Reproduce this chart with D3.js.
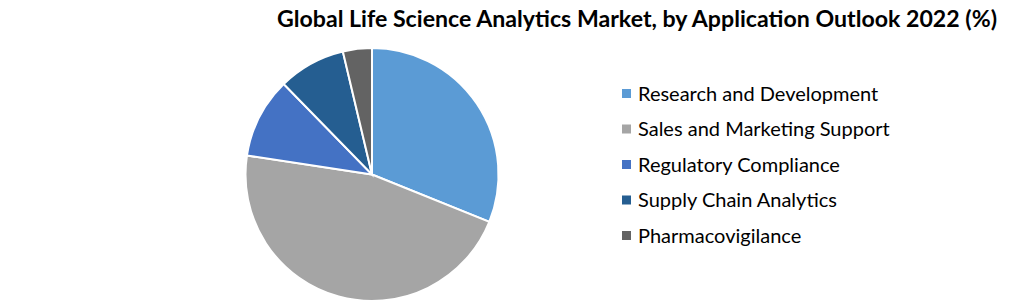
<!DOCTYPE html>
<html>
<head>
<meta charset="utf-8">
<script src="https://cdn.jsdelivr.net/npm/d3@7"></script>
<style>
  body { margin: 0; background: #fff; }
  svg { display: block; font-family: Lato, "Open Sans", sans-serif; }
</style>
</head>
<body>
<svg width="1020" height="303"></svg>
<script>
// application segments, share of market (%)
const categories = ['Research and Development', 'Sales and Marketing Support', 'Regulatory Compliance', 'Supply Chain Analytics', 'Pharmacovigilance']
const shares = [31.1, 46.3, 10.3, 8.6, 3.7]
const colors = ['#5B9BD5', '#A5A5A5', '#4472C4', '#255E91', '#636363']

const svg = d3.select('svg')
const cx = 372, cy = 174.5, radius = 126.5

svg.append('text')
    .attr('x', 637)
    .attr('y', 27)
    .attr('text-anchor', 'middle')
    .attr('font-size', 22)
    .attr('font-weight', 'bold')
    .attr('textLength', 720)
    .attr('lengthAdjust', 'spacingAndGlyphs')
    .attr('fill', '#000')
    .text('Global Life Science Analytics Market, by Application Outlook 2022 (%)')

const color = d3.scaleOrdinal().domain(categories).range(colors)

const pie = d3.pie().sort(null).value(d => d.value)
const arc = d3.arc().innerRadius(0).outerRadius(radius)
const data = categories.map((c, i) => ({name: c, value: shares[i]}))

svg.append('g')
    .attr('transform', `translate(${cx}, ${cy})`)
  .selectAll('path')
  .data(pie(data))
  .join('path')
    .attr('d', arc)
    .attr('fill', d => color(d.data.name))
    .attr('stroke', '#fff')
    .attr('stroke-width', 2)

const legendY = d3.scalePoint()
    .domain(categories)
    .range([93.5, 235.5])

const legend = svg.append('g')
  .selectAll('g')
  .data(categories)
  .join('g')
    .attr('transform', d => `translate(622, ${legendY(d)})`)

legend.append('rect')
    .attr('x', 0)
    .attr('y', -4.5)
    .attr('width', 9)
    .attr('height', 9)
    .attr('fill', d => color(d))

legend.append('text')
    .attr('x', 16)
    .attr('y', 0)
    .attr('dy', '0.35em')
    .attr('font-size', 20)
    .attr('fill', '#000')
    .text(d => d)
</script>
</body>
</html>
